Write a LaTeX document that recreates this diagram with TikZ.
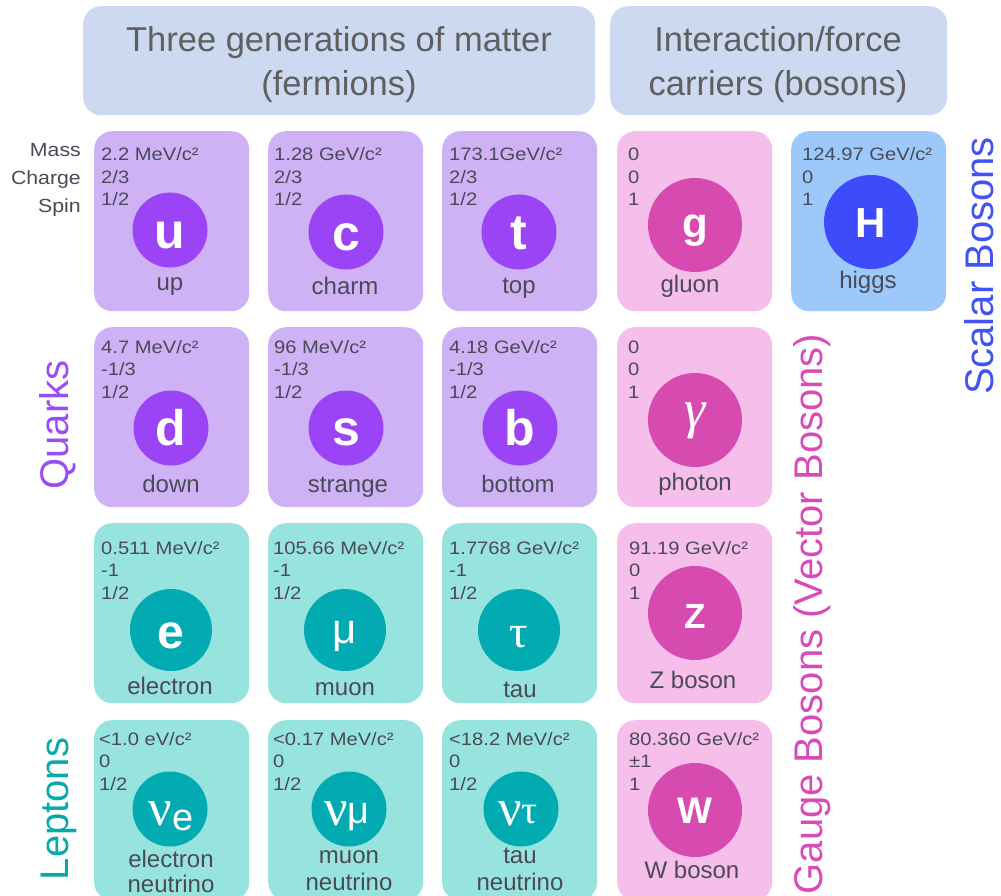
\documentclass[tikz,border=0pt]{standalone}
\usepackage{fontspec}
\setmainfont{Liberation Sans}
\newfontfamily\datafont[FakeStretch=1.12]{Liberation Sans}
\newfontfamily\grserif{Liberation Serif}
\definecolor{hdrbg}{HTML}{CCD9F0}
\definecolor{hdrtxt}{HTML}{5F5F5F}
\definecolor{qbg}{HTML}{CFB2F5}
\definecolor{qdot}{HTML}{9A44F6}
\definecolor{qlab}{HTML}{9A4CF5}
\definecolor{lbg}{HTML}{97E4DF}
\definecolor{ldot}{HTML}{02ABB1}
\definecolor{llab}{HTML}{08A9A9}
\definecolor{gbg}{HTML}{F6BEEB}
\definecolor{gdot}{HTML}{D74AAF}
\definecolor{glab}{HTML}{D84CB9}
\definecolor{hbg}{HTML}{9CC9FA}
\definecolor{hdot}{HTML}{3D4BFA}
\definecolor{hlab}{HTML}{4253F5}
\definecolor{txt}{HTML}{4A4A57}
\tikzset{
  card/.style={rectangle, rounded corners=18pt, minimum width=155pt, minimum height=180pt, anchor=north west, inner sep=0pt},
  hdr/.style={rectangle, rounded corners=18pt, fill=hdrbg, anchor=north west, inner sep=0pt, minimum height=109pt},
  dot/.style={circle, inner sep=0pt},
  sym/.style={anchor=base, text=white, inner sep=0pt, font=\fontsize{50}{50}\selectfont\bfseries},
  data/.style={anchor=base west, text=txt, inner sep=0pt, font=\fontsize{18}{18}\selectfont\datafont},
  prop/.style={anchor=base east, text=txt, inner sep=0pt, font=\fontsize{19}{19}\selectfont\datafont},
  pname/.style={anchor=base, text=txt, inner sep=0pt, font=\fontsize{24}{24}\selectfont},
  side/.style={anchor=base, rotate=90, inner sep=0pt, font=\fontsize{40}{40}\selectfont},
  htext/.style={anchor=base, text=hdrtxt, inner sep=0pt, font=\fontsize{34.5}{34.5}\selectfont},
}
\newcommand{\pdata}[6]{%
  \node[data] (#1m) at (#2,#3) {#4};
  \node[data] (#1q) at (#2,#3+22.5) {#5};
  \node[data] (#1s) at (#2,#3+45) {#6};
}
\begin{document}
\begin{tikzpicture}[x=1pt,y=-1pt]
\useasboundingbox (0,0) rectangle (1001,896);
\clip (0,0) rectangle (1001,896);

% headers
\node[hdr, minimum width=512pt] (h1) at (83,6) {};
\node[hdr, minimum width=337pt] (h2) at (610,6) {};
\node[htext] (h1a) at (339,52) {Three generations of matter};
\node[htext] (h1b) at (339,96) {(fermions)};
\node[htext] (h2a) at (778,52) {Interaction/force};
\node[htext] (h2b) at (778,96) {carriers (bosons)};

% property labels
\node[prop] (pm) at (81,157) {Mass};
\node[prop] (pc) at (81,185) {Charge};
\node[prop] (ps) at (81,212) {Spin};

% cards
\node[card, fill=qbg] (cu) at (94,131) {};
\node[card, fill=qbg] (cc) at (268,131) {};
\node[card, fill=qbg] (ct) at (442,131) {};
\node[card, fill=gbg] (cg) at (617,131) {};
\node[card, fill=hbg] (cH) at (791,131) {};
\node[card, fill=qbg] (cd) at (94,327) {};
\node[card, fill=qbg] (cs) at (268,327) {};
\node[card, fill=qbg] (cb) at (442,327) {};
\node[card, fill=gbg] (cy) at (617,327) {};
\node[card, fill=lbg] (ce) at (94,523) {};
\node[card, fill=lbg] (cmu) at (268,523) {};
\node[card, fill=lbg] (ctau) at (442,523) {};
\node[card, fill=gbg] (cZ) at (617,523) {};
\node[card, fill=lbg] (cne) at (94,720) {};
\node[card, fill=lbg] (cnm) at (268,720) {};
\node[card, fill=lbg] (cnt) at (442,720) {};
\node[card, fill=gbg] (cW) at (617,720) {};

% data
\pdata{u}{101}{161}{2.2 MeV/c²}{2/3}{1/2}
\pdata{c}{274}{161}{1.28 GeV/c²}{2/3}{1/2}
\pdata{t}{449}{161}{173.1GeV/c²}{2/3}{1/2}
\pdata{g}{628}{161}{0}{0}{1}
\pdata{H}{802}{161}{124.97 GeV/c²}{0}{1}
\pdata{d}{101}{353}{4.7 MeV/c²}{-1/3}{1/2}
\pdata{s}{274}{353}{96 MeV/c²}{-1/3}{1/2}
\pdata{b}{449}{353}{4.18 GeV/c²}{-1/3}{1/2}
\pdata{y}{628}{353}{0}{0}{1}
\pdata{e}{101}{554}{0.511 MeV/c²}{-1}{1/2}
\pdata{mu}{273}{554}{105.66 MeV/c²}{-1}{1/2}
\pdata{tau}{449}{554}{1.7768 GeV/c²}{-1}{1/2}
\pdata{Z}{629}{554}{91.19 GeV/c²}{0}{1}
\pdata{ne}{99}{745}{<1.0 eV/c²}{0}{1/2}
\pdata{nm}{273}{745}{<0.17 MeV/c²}{0}{1/2}
\pdata{nt}{449}{745}{<18.2 MeV/c²}{0}{1/2}
\pdata{W}{629}{745}{80.360 GeV/c²}{±1}{1}

% circles
\node[dot, fill=qdot, minimum size=75pt] (u) at (170,230) {};
\node[dot, fill=qdot, minimum size=75pt] (c) at (346,232) {};
\node[dot, fill=qdot, minimum size=75pt] (t) at (519,232) {};
\node[dot, fill=gdot, minimum size=94pt] (g) at (695,225) {};
\node[dot, fill=hdot, minimum size=94pt] (H) at (871,222) {};
\node[dot, fill=qdot, minimum size=75pt] (d) at (171,428) {};
\node[dot, fill=qdot, minimum size=75pt] (s) at (346,428) {};
\node[dot, fill=qdot, minimum size=75pt] (b) at (520,428) {};
\node[dot, fill=gdot, minimum size=94pt] (y) at (695,420) {};
\node[dot, fill=ldot, minimum size=82pt] (e) at (171,630) {};
\node[dot, fill=ldot, minimum size=82pt] (mu) at (345,630) {};
\node[dot, fill=ldot, minimum size=82pt] (tau) at (519,630) {};
\node[dot, fill=gdot, minimum size=94pt] (Z) at (695,613) {};
\node[dot, fill=ldot, minimum size=75pt] (ne) at (170,809) {};
\node[dot, fill=ldot, minimum size=75pt] (nm) at (349,809) {};
\node[dot, fill=ldot, minimum size=75pt] (nt) at (521,809) {};
\node[dot, fill=gdot, minimum size=94pt] (W) at (695,810) {};

% symbols
\node[sym] (ul) at (170,248) {u};
\node[sym] (cl) at (346,250) {c};
\node[sym] (tl) at (519,249) {t};
\node[sym, font=\fontsize{42}{42}\selectfont\bfseries] (gl) at (695,237) {g};
\node[sym, font=\fontsize{42}{42}\selectfont\bfseries] (Hl) at (871,237) {H};
\node[sym] (dl) at (171,445) {d};
\node[sym] (sl) at (346,445) {s};
\node[sym] (bl) at (520,445) {b};
\node[text=white, inner sep=0pt, font=\fontsize{54}{54}\selectfont\grserif\itshape] (yl) at (695,421) {γ};
\node[sym, font=\fontsize{48}{48}\selectfont\bfseries] (el) at (171,648) {e};
\node[sym, font=\fontsize{42}{42}\selectfont] (mul) at (345,643) {μ};
\node[sym, font=\fontsize{46}{46}\selectfont\grserif] (taul) at (519,647) {τ};
\node[sym, font=\fontsize{35}{35}\selectfont\bfseries] (Zl) at (695,628) {Z};
\node[sym, font=\fontsize{37}{37}\selectfont\bfseries] (Wl) at (695,823) {W};
\node[sym, font=\fontsize{52}{52}\selectfont\grserif] (nel) at (171,825) {ν\raisebox{-5pt}{\fontsize{38}{38}\selectfont\rmfamily e}};
\node[sym, font=\fontsize{52}{52}\selectfont\grserif] (nml) at (347,825) {ν\raisebox{2pt}{\fontsize{38}{38}\selectfont\rmfamily μ}};
\node[sym, font=\fontsize{52}{52}\selectfont\grserif] (ntl) at (518,825) {ν\raisebox{2pt}{\fontsize{40}{40}\selectfont τ}};

% names
\node[pname] (un) at (170,290) {up};
\node[pname] (cn) at (345,294) {charm};
\node[pname] (tn) at (519,293) {top};
\node[pname] (gn) at (690,292) {gluon};
\node[pname] (Hn) at (868,288) {higgs};
\node[pname] (dn) at (171,492) {down};
\node[pname] (sn) at (348,492) {strange};
\node[pname] (bn) at (518,492) {bottom};
\node[pname] (yn) at (695,490) {photon};
\node[pname] (en) at (170,694) {electron};
\node[pname] (mun) at (345,695) {muon};
\node[pname] (taun) at (520,697) {tau};
\node[pname] (Zn) at (693,688) {Z boson};
\node[pname] (nen1) at (171,867) {electron};
\node[pname] (nen2) at (171,892) {neutrino};
\node[pname] (nmn1) at (349,863) {muon};
\node[pname] (nmn2) at (349,890) {neutrino};
\node[pname] (ntn1) at (520,863) {tau};
\node[pname] (ntn2) at (520,890) {neutrino};
\node[pname] (Wn) at (692,878) {W boson};

% side labels
\node[side, text=qlab] (sq) at (68,425) {Quarks};
\node[side, text=llab] (sl2) at (68,809) {Leptons};
\node[side, text=glab] (sg) at (822,614) {Gauge Bosons (Vector Bosons)};
\node[side, text=hlab] (sh) at (993,266) {Scalar Bosons};
\end{tikzpicture}
\end{document}
